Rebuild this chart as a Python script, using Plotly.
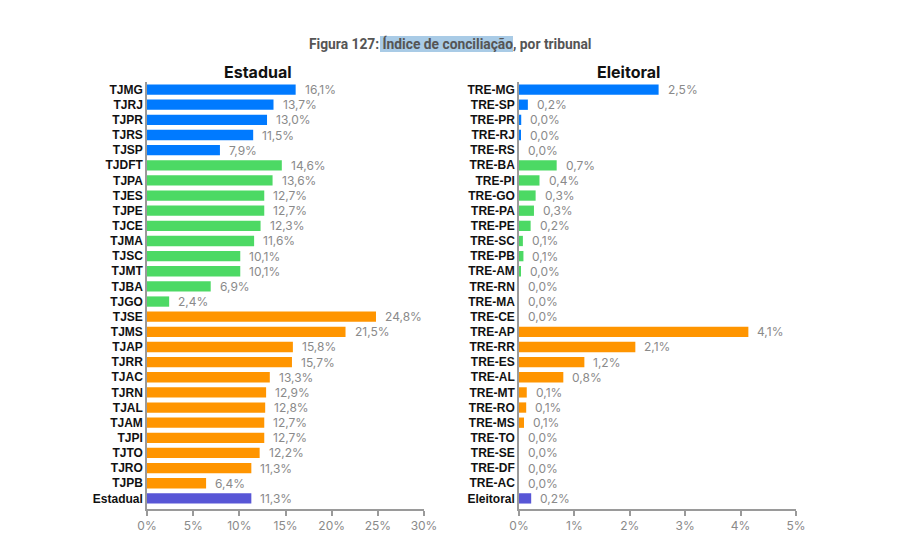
import plotly.graph_objects as go

W, H = 900, 552
OFF = 8  # page body offset

est_labels = ["TJMG", "TJRJ", "TJPR", "TJRS", "TJSP", "TJDFT", "TJPA", "TJES", "TJPE", "TJCE",
              "TJMA", "TJSC", "TJMT", "TJBA", "TJGO", "TJSE", "TJMS", "TJAP", "TJRR", "TJAC",
              "TJRN", "TJAL", "TJAM", "TJPI", "TJTO", "TJRO", "TJPB", "Estadual"]
est_values = [16.1, 13.7, 13.0, 11.5, 7.9, 14.6, 13.6, 12.7, 12.7, 12.3,
              11.6, 10.1, 10.1, 6.9, 2.4, 24.8, 21.5, 15.8, 15.7, 13.3,
              12.9, 12.8, 12.7, 12.7, 12.2, 11.3, 6.4, 11.3]
est_groups = ["g"] * 5 + ["m"] * 10 + ["p"] * 12 + ["t"]

ele_labels = ["TRE-MG", "TRE-SP", "TRE-PR", "TRE-RJ", "TRE-RS", "TRE-BA", "TRE-PI", "TRE-GO",
              "TRE-PA", "TRE-PE", "TRE-SC", "TRE-PB", "TRE-AM", "TRE-RN", "TRE-MA", "TRE-CE",
              "TRE-AP", "TRE-RR", "TRE-ES", "TRE-AL", "TRE-MT", "TRE-RO", "TRE-MS", "TRE-TO",
              "TRE-SE", "TRE-DF", "TRE-AC", "Eleitoral"]
ele_values = [2.52, 0.16, 0.04, 0.03, 0.0, 0.68, 0.37, 0.30,
              0.27, 0.21, 0.07, 0.08, 0.03, 0.0, 0.0, 0.0,
              4.14, 2.10, 1.18, 0.80, 0.14, 0.13, 0.09, 0.0,
              0.0, 0.0, 0.0, 0.22]
ele_groups = ["g"] * 5 + ["m"] * 11 + ["p"] * 11 + ["t"]

group_colors = {"g": "#007aff", "m": "#4cd964", "p": "#ff9500", "t": "#5856d6"}

est_ticks = [0, 5, 10, 15, 20, 25, 30]
ele_ticks = [0, 1, 2, 3, 4, 5]


def fmt(v):
    return f"{v:.1f}".replace(".", ",") + "%"


def px(x):
    return (x - OFF) / W


def py(y):
    return 1 - (y - OFF) / H


fig = go.Figure()
for labels, values, groups, xa, ya in [
    (est_labels, est_values, est_groups, "x", "y"),
    (ele_labels, ele_values, ele_groups, "x2", "y2"),
]:
    fig.add_trace(go.Bar(
        x=values, y=labels, orientation="h",
        marker=dict(color=[group_colors[g] for g in groups], line=dict(width=0)),
        width=0.68, cliponaxis=False, xaxis=xa, yaxis=ya, hoverinfo="skip",
    ))
    for lab, v in zip(labels, values):
        fig.add_annotation(
            x=v, y=lab, xref=xa, yref=ya, text=fmt(v), showarrow=False,
            xanchor="left", yanchor="middle", xshift=7,
            font=dict(family="Inter, Roboto, sans-serif", size=12, color="#8a8a8a"),
        )

axis_common = dict(
    showgrid=False, zeroline=False, showline=True, linecolor="#9a9a9a", linewidth=1.5,
    ticks="outside", ticklen=5, tickcolor="#9a9a9a", tickwidth=1.5, automargin=False,
    tickfont=dict(family="Inter, Roboto, sans-serif", size=12, color="#8a8a8a"),
)
yaxis_common = dict(
    showgrid=False, zeroline=False, showline=True, linecolor="#9a9a9a", linewidth=1.5,
    ticks="", autorange=False, range=[27.7, -0.5], ticklabelstandoff=0, automargin=False,
    tickfont=dict(family="Liberation Sans, Arial, sans-serif", size=12, color="#111111", weight="bold"),
)

fig.update_layout(
    width=W, height=H, margin=dict(l=0, r=0, t=0, b=0, autoexpand=False),
    paper_bgcolor="white", plot_bgcolor="white", showlegend=False, bargap=0.3,
    xaxis=dict(domain=[px(147), px(424)], range=[0, 30], tickvals=est_ticks,
               ticktext=[f"{t}%" for t in est_ticks], anchor="y", **axis_common),
    yaxis=dict(domain=[py(509), py(82)], anchor="x", **yaxis_common),
    xaxis2=dict(domain=[px(519), px(796)], range=[0, 5], tickvals=ele_ticks,
                ticktext=[f"{t}%" for t in ele_ticks], anchor="y2", **axis_common),
    yaxis2=dict(domain=[py(509), py(82)], anchor="x2", **yaxis_common),
)

# highlight behind part of title
fig.add_shape(type="rect", xref="paper", yref="paper",
              x0=px(380), x1=px(513), y0=py(52), y1=py(36),
              fillcolor="#a9cbe6", line=dict(width=0), layer="below")

fig.add_annotation(
    text="Figura 127: Índice de conciliação, por tribunal",
    xref="paper", yref="paper", x=px(450), y=py(44), showarrow=False,
    xanchor="center", yanchor="middle",
    font=dict(family="Roboto, sans-serif", size=13.8, color="#555555", weight="bold"),
)
fig.add_annotation(text="Estadual", xref="paper", yref="paper", x=px(258), y=py(72),
                   showarrow=False, xanchor="center", yanchor="middle",
                   font=dict(family="Inter, Roboto, sans-serif", size=16, color="#111111", weight="bold"))
fig.add_annotation(text="Eleitoral", xref="paper", yref="paper", x=px(628), y=py(72),
                   showarrow=False, xanchor="center", yanchor="middle",
                   font=dict(family="Inter, Roboto, sans-serif", size=16, color="#111111", weight="bold"))

fig.write_html("out.html")
